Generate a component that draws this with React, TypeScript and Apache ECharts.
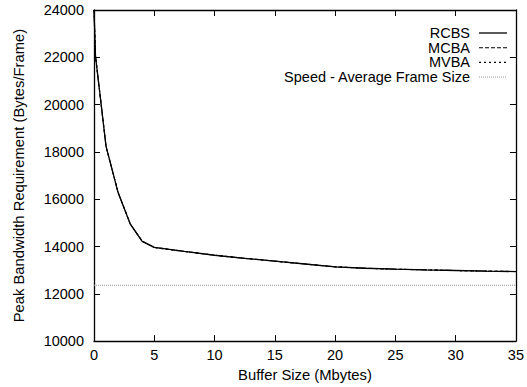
import React, { useEffect, useRef } from "react";
import * as echarts from "echarts";

const bufferSizes = [0, 0.125, 1, 2, 3, 4, 5, 7.5, 10, 12.5, 15, 17.5, 20, 22.5, 25, 27.5, 30, 32.5, 35];
const rcbs = [24000, 22050, 18230, 16280, 14960, 14220, 13960, 13790, 13630, 13500, 13380, 13260, 13140, 13080, 13040, 13010, 12985, 12960, 12940];
const mcba = [24000, 22050, 18230, 16280, 14960, 14220, 13960, 13790, 13630, 13500, 13380, 13260, 13140, 13080, 13040, 13010, 12985, 12960, 12940];
const mvba = [24000, 22050, 18230, 16280, 14960, 14220, 13960, 13790, 13630, 13500, 13380, 13260, 13140, 13080, 13040, 13010, 12985, 12960, 12940];
const speedX = [0, 35];
const speedY = [12360, 12360];
const seriesNames = ["RCBS", "MCBA", "MVBA", "Speed - Average Frame Size"];

const FONT = "Liberation Sans, Arial, Helvetica, sans-serif";

const pairs = (xs: number[], ys: number[]) => xs.map((x, i) => [x, ys[i]]);

const styles = [
  { color: "#000", width: 1.3, type: "solid" as any },
  { color: "#000", width: 1.1, type: [4, 2] as any },
  { color: "#000", width: 1.1, type: [2, 3] as any },
  { color: "#999", width: 1, type: [1, 1] as any },
];

export default function App() {
  const ref = useRef<HTMLDivElement>(null);
  useEffect(() => {
    if (!ref.current) return;
    const chart = echarts.init(ref.current, null, { renderer: "svg" });
    const axisCommon = {
      type: "value" as const,
      axisLine: { show: true, onZero: false, lineStyle: { color: "#000", width: 1.3 } },
      axisTick: { show: true, inside: true, length: 6, lineStyle: { color: "#000", width: 1 } },
      splitLine: { show: false },
    };
    const legendTextRight = 470;
    const legendLineX1 = 479;
    const legendLineX2 = 507;
    const legendTop = 33;
    const legendStep = 14.7;
    const legendGraphics: any[] = [];
    seriesNames.forEach((name, i) => {
      const y = legendTop + i * legendStep;
      legendGraphics.push({
        type: "text",
        x: legendTextRight,
        y,
        style: {
          text: name,
          align: "right",
          verticalAlign: "middle",
          fontFamily: FONT,
          fontSize: 14.5,
          fill: "#000",
        },
      });
      legendGraphics.push({
        type: "line",
        shape: { x1: legendLineX1, y1: y, x2: legendLineX2, y2: y },
        style: { stroke: styles[i].color, lineWidth: styles[i].width, lineDash: styles[i].type === "solid" ? null : styles[i].type },
      });
    });
    chart.setOption({
      animation: false,
      backgroundColor: "#fff",
      textStyle: { fontFamily: FONT },
      grid: { left: 94, right: 5, top: 10, bottom: 41.5, containLabel: false },
      graphic: legendGraphics,
      xAxis: [
        {
          ...axisCommon,
          position: "bottom",
          min: 0,
          max: 35,
          interval: 5,
          name: "Buffer Size (Mbytes)",
          nameLocation: "middle",
          nameGap: 24,
          nameTextStyle: { fontFamily: FONT, fontSize: 14.8, color: "#000" },
          axisLabel: { color: "#000", fontFamily: FONT, fontSize: 14.5, margin: 6, formatter: (v: number) => String(v) },
        },
        {
          ...axisCommon,
          position: "top",
          min: 0,
          max: 35,
          interval: 5,
          axisLabel: { show: false },
        },
      ],
      yAxis: [
        {
          ...axisCommon,
          position: "left",
          min: 10000,
          max: 24000,
          interval: 2000,
          name: "Peak Bandwidth Requirement (Bytes/Frame)",
          nameLocation: "middle",
          nameGap: 68,
          nameTextStyle: { fontFamily: FONT, fontSize: 14.8, color: "#000" },
          axisLabel: { color: "#000", fontFamily: FONT, fontSize: 14.5, margin: 10, formatter: (v: number) => String(v) },
        },
        {
          ...axisCommon,
          position: "right",
          min: 10000,
          max: 24000,
          interval: 2000,
          axisLabel: { show: false },
        },
      ],
      series: [
        {
          name: seriesNames[0],
          type: "line",
          data: pairs(bufferSizes, rcbs),
          symbol: "none",
          color: styles[0].color,
          lineStyle: styles[0],
          z: 5,
        },
        {
          name: seriesNames[1],
          type: "line",
          data: pairs(bufferSizes, mcba),
          symbol: "none",
          color: styles[1].color,
          lineStyle: styles[1],
          z: 4,
        },
        {
          name: seriesNames[2],
          type: "line",
          data: pairs(bufferSizes, mvba),
          symbol: "none",
          color: styles[2].color,
          lineStyle: styles[2],
          z: 3,
        },
        {
          name: seriesNames[3],
          type: "line",
          data: pairs(speedX, speedY),
          symbol: "none",
          color: styles[3].color,
          lineStyle: styles[3],
          z: 2,
        },
      ],
    });
    return () => chart.dispose();
  }, []);
  return (
    <div
      ref={ref}
      style={{ position: "absolute", left: 0, top: 0, width: 527, height: 387, background: "#fff" }}
    />
  );
}
